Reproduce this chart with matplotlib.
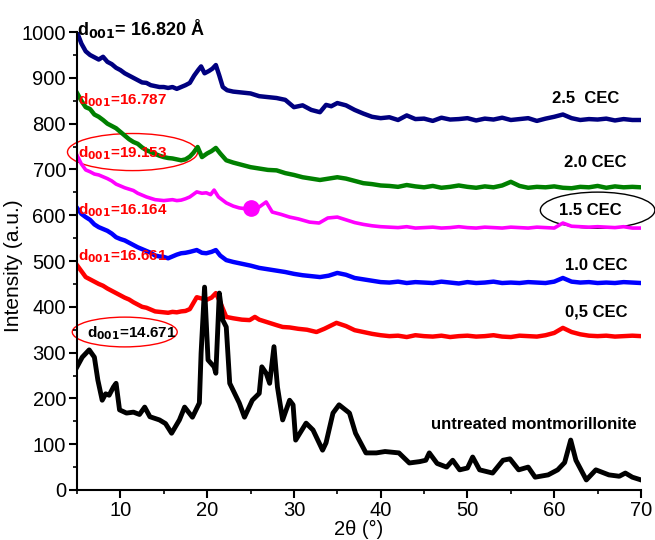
#XRD patterns of montmorillonite treated with different CEC loadings
import matplotlib.pyplot as plt
from matplotlib.patches import Ellipse

plt.rcParams['font.family'] = ['Liberation Sans', 'DejaVu Sans']

#Common tail of the flat patterns (40 to 70 degrees)
tail_x = list(range(40, 71))

#2.5 CEC
cec25_x = [5, 5.5, 6, 6.5, 7, 7.5, 8, 8.5, 9, 9.5, 10, 10.5, 11, 11.5, 12, 12.5, 13, 13.5, 14, 14.5,
           15, 15.5, 16, 16.5, 17, 17.5, 18, 18.5, 19, 19.3, 19.7, 20.2, 20.6, 21, 21.4, 21.8, 22.3, 23, 24, 25,
           26, 27, 28, 29, 30, 31, 32, 33, 33.7, 34.3, 35, 36, 37, 38, 39] + tail_x
cec25_y = [1000, 975, 958, 950, 945, 940, 946, 935, 930, 922, 917, 910, 905, 900, 895, 890, 889, 884, 882, 880,
           880, 878, 880, 876, 880, 884, 889, 905, 918, 925, 910, 915, 920, 928, 905, 880, 873, 870, 868, 866,
           860, 858, 856, 852, 836, 840, 830, 825, 841, 838, 845, 840, 830, 822, 815,
           812, 814, 808, 818, 810, 811, 806, 813, 809, 810, 812, 807, 811, 809, 813, 808, 810, 812, 806, 811,
           815, 820, 812, 808, 810, 809, 811, 807, 810, 808, 808]

#2.0 CEC
cec20_x = [5, 5.5, 6, 6.5, 7, 7.5, 8, 8.5, 9, 9.5, 10, 10.5, 11, 11.5, 12, 12.5, 13, 13.5, 14, 14.5,
           15, 15.5, 16, 16.5, 17, 17.5, 18, 18.4, 18.9, 19.4, 20, 20.5, 21, 21.5, 22.2, 23, 24, 25, 26, 27,
           28, 29, 30, 31, 32, 33, 34, 35, 36, 37, 38, 39] + tail_x
cec20_y = [867, 850, 836, 832, 820, 815, 808, 800, 795, 790, 782, 774, 766, 760, 756, 748, 742, 738, 734, 730,
           727, 725, 724, 722, 720, 722, 728, 736, 749, 727, 735, 740, 747, 735, 720, 715, 710, 705, 702, 699,
           698, 692, 688, 683, 680, 677, 680, 683, 680, 675, 670, 668,
           665, 664, 662, 666, 663, 661, 664, 660, 662, 665, 662, 660, 663, 661, 665, 673, 664, 660, 662, 661,
           663, 660, 659, 662, 661, 664, 660, 663, 661, 662, 661]

#1.5 CEC
cec15_x = [5, 5.5, 6, 6.5, 7, 7.5, 8, 8.5, 9, 9.5, 10, 10.5, 11, 11.5, 12, 12.5, 13, 13.5, 14, 14.5,
           15, 15.5, 16, 16.5, 17, 17.5, 18, 18.8, 19.4, 19.9, 20.4, 20.8, 21.3, 22.2, 23, 23.7, 24.5, 25.2, 26, 26.8,
           27.5, 28.5, 29.5, 30.5, 31.8, 32.9, 33.9, 35, 36, 37, 38, 39] + tail_x
cec15_y = [731, 712, 699, 695, 690, 688, 684, 680, 675, 668, 664, 660, 657, 654, 648, 644, 640, 637, 634, 633,
           632, 633, 634, 632, 633, 636, 640, 651, 648, 649, 645, 655, 640, 627, 620, 616, 614, 616, 618, 629,
           607, 602, 596, 592, 585, 583, 594, 596, 590, 584, 580, 577,
           575, 574, 573, 575, 572, 573, 574, 572, 573, 575, 573, 572, 574, 573, 572, 574, 573, 572, 574, 573,
           572, 583, 576, 575, 574, 575, 574, 573, 575, 572, 572]

#1.0 CEC
cec10_x = [5, 5.5, 6, 6.5, 7, 7.5, 8, 8.5, 9, 9.5, 10, 10.5, 11, 11.5, 12, 12.5, 13, 13.5, 14, 14.5,
           15, 15.5, 16, 16.5, 17, 17.5, 18, 18.8, 19.4, 19.9, 20.5, 21, 21.5, 22.2, 23, 24, 25, 26, 27, 28,
           29, 30, 31, 32, 33, 34, 35, 36, 37, 38, 39] + tail_x
cec10_y = [616, 603, 596, 590, 580, 574, 570, 566, 560, 552, 548, 545, 540, 535, 530, 526, 522, 518, 512, 510,
           509, 506, 510, 514, 517, 518, 520, 524, 518, 517, 520, 524, 512, 502, 498, 494, 490, 485, 482, 479,
           476, 472, 469, 467, 465, 468, 474, 470, 463, 460, 457,
           454, 453, 455, 452, 454, 453, 452, 455, 453, 451, 454, 452, 453, 455, 452, 453, 452, 454, 453, 452,
           455, 463, 455, 453, 454, 452, 453, 452, 454, 453, 452]

#0.5 CEC
cec05_x = [5, 5.5, 6, 6.5, 7, 7.5, 8, 8.5, 9, 9.5, 10, 10.5, 11, 11.5, 12, 12.5, 13, 13.5, 14, 14.5,
           15, 15.5, 16, 16.5, 17, 17.5, 18, 18.8, 19.4, 19.9, 20.5, 21, 21.5, 22.2, 23, 24, 24.9, 25.5, 26, 27,
           28, 28.7, 29.5, 30.5, 31.5, 32.6, 33.5, 34.9, 36, 37, 38, 39] + tail_x
cec05_y = [491, 478, 465, 460, 455, 450, 446, 440, 435, 430, 425, 420, 416, 410, 405, 400, 398, 394, 390, 389,
           388, 387, 389, 388, 390, 391, 395, 421, 418, 415, 420, 430, 410, 378, 375, 372, 371, 378, 372, 366,
           360, 356, 355, 352, 350, 345, 352, 365, 358, 349, 345, 341,
           338, 336, 337, 334, 338, 336, 335, 337, 334, 336, 337, 335, 336, 338, 335, 334, 337, 336, 335, 338,
           343, 354, 345, 340, 337, 336, 337, 335, 336, 337, 336]

#untreated montmorillonite
raw_x = [5, 5.6, 6.4, 7.0, 7.4, 7.9, 8.3, 8.7, 9.2, 9.5, 9.9, 10.7, 11.5, 12.2, 12.8, 13.4, 14.5, 15.2, 15.9, 16.8,
         17.4, 18.3, 19.1, 19.3, 19.7, 20.1, 20.8, 21.0, 21.4, 21.8, 22.2, 22.6, 23.7, 24.3, 25.2, 26.0, 26.3, 26.8, 27.2, 27.7,
         28.1, 28.7, 29.5, 29.9, 30.2, 31.4, 32.2, 33.3, 33.7, 34.5, 35.2, 36.4, 37.1, 38.3, 39.5, 40.5, 42.1, 43.3, 44.5, 45.2,
         45.6, 46.5, 47.6, 48.3, 49.1, 50.0, 50.6, 51.4, 52.9, 54.1, 54.9, 55.9, 57.0, 57.8, 59.3, 60.4, 61.2, 61.9, 62.5, 63.7,
         64.8, 66.3, 67.5, 68.2, 69.0, 70]
raw_y = [269, 290, 306, 290, 240, 196, 210, 207, 225, 233, 175, 168, 170, 165, 181, 160, 153, 145, 124, 153,
         181, 159, 190, 299, 443, 284, 269, 255, 430, 371, 356, 233, 190, 159, 196, 211, 269, 255, 233, 313,
         225, 153, 196, 186, 109, 146, 131, 87, 103, 168, 186, 168, 124, 81, 81, 84, 81, 59, 62, 65,
         81, 58, 50, 65, 44, 48, 72, 44, 37, 65, 68, 44, 50, 28, 33, 44, 60, 109, 65, 22,
         44, 33, 30, 37, 28, 22]

#Labels
d_values = ["16.787", "19.153", "16.164", "16.661"]
cec_labels = ["2.5  CEC", "2.0 CEC", "1.5 CEC", "1.0 CEC", "0,5 CEC"]

fig = plt.figure(figsize=(6.55, 5.4), dpi=100)
ax = fig.add_axes([0.1176, 0.0926, 0.861, 0.848])

ax.plot(cec25_x, cec25_y, color='#000080', lw=3.2)
ax.plot(cec20_x, cec20_y, color='#008000', lw=3.2)
ax.plot(cec15_x, cec15_y, color='#ff00ff', lw=2.6)
ax.plot(cec10_x, cec10_y, color='#0000ff', lw=3.2)
ax.plot(cec05_x, cec05_y, color='#ff0000', lw=3.2)
ax.plot(raw_x, raw_y, color='black', lw=3.5)
ax.plot([25.1], [616], 'o', color='#ff00ff', ms=11)

ax.set_xlim(5, 70)
ax.set_ylim(0, 1000)
ax.set_xticks(range(10, 71, 10))
ax.set_xticks(range(5, 71, 10), minor=True)
ax.set_yticks(range(0, 1001, 100))
ax.set_yticks(range(50, 1000, 100), minor=True)
ax.spines['top'].set_visible(False)
ax.spines['right'].set_visible(False)
ax.spines['left'].set_linewidth(1.5)
ax.spines['bottom'].set_linewidth(1.5)
ax.tick_params(which='major', length=6, width=1.5, labelsize=14.5, pad=2)
ax.tick_params(which='minor', length=3, width=1.2)
ax.set_xlabel("2θ (°)", fontsize=14.5, labelpad=0)
ax.set_ylabel("Intensity (a.u.)", fontsize=15, labelpad=-1)
ax.yaxis.set_label_coords(-0.095, 0.49)

#d-spacing annotations
ax.text(5.0, 1008, r'd$_{\mathbf{001}}$= 16.820 Å', fontsize=13, fontweight='bold', va='center', ha='left', clip_on=False)
d_y = [851, 736, 611, 511]
for val, yy in zip(d_values, d_y):
    ax.text(5.1, yy, r'd$_{\mathbf{001}}$=' + val, fontsize=11, fontweight='bold', color='red', va='center', ha='left')
ax.text(6.2, 343, r'd$_{\mathbf{001}}$=14.671', fontsize=11, fontweight='bold', color='black', va='center', ha='left')

ax.add_patch(Ellipse((11.4, 738), 15, 81, fill=False, edgecolor='red', lw=1, clip_on=False))
ax.add_patch(Ellipse((10.5, 345), 12.1, 65, fill=False, edgecolor='red', lw=1, clip_on=False))
ax.add_patch(Ellipse((65.0, 611), 13.2, 79, fill=False, edgecolor='black', lw=1, clip_on=False))

#sample labels
cec_pos = [(63.6, 856), (64.7, 716), (64.2, 611), (64.8, 491), (64.8, 389)]
for lab, (xx, yy) in zip(cec_labels, cec_pos):
    ax.text(xx, yy, lab, fontsize=12, fontweight='bold', ha='center', va='center')
ax.text(57.7, 142, "untreated montmorillonite", fontsize=12, fontweight='bold', ha='center', va='center')

plt.savefig('out.png', dpi=100)
